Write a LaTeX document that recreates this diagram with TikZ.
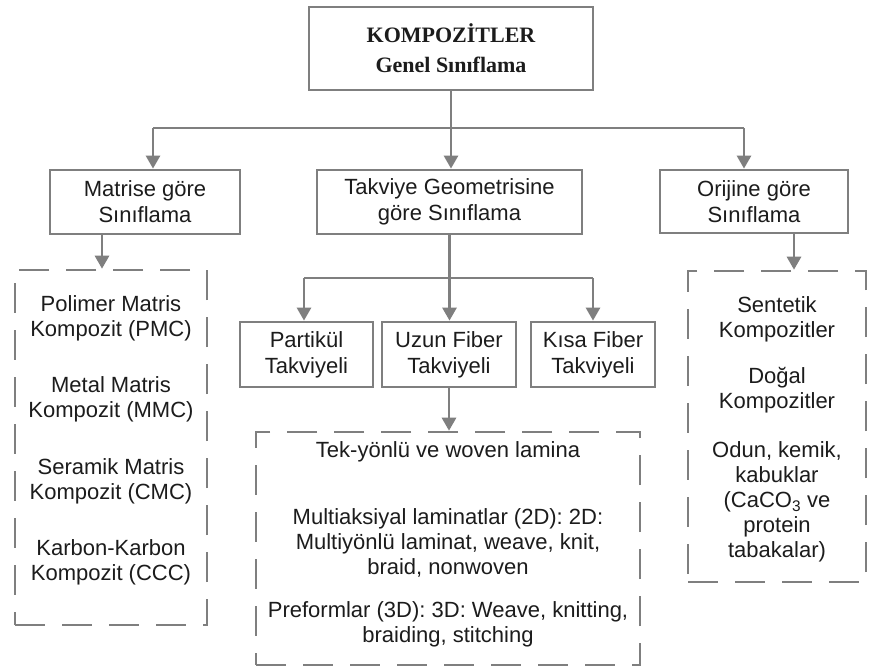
\documentclass[tikz,border=0pt]{standalone}
\usepackage{fontspec}
\setmainfont{Liberation Serif}
\setsansfont{Liberation Sans}
\usetikzlibrary{arrows.meta}
\definecolor{linegray}{HTML}{7F7F7F}
\definecolor{txtcol}{HTML}{1C1C1C}
\tikzset{
  box/.style={draw=linegray, line width=2.8pt, fill=white, align=center, inner sep=0pt,
    text=txtcol, font=\sffamily\fontsize{22}{26}\selectfont},
  dbox/.style={draw=linegray, line width=2.6pt, dash pattern=on 30pt off 17pt, inner sep=0pt},
  txt/.style={align=center, inner sep=0pt, text=txtcol, font=\sffamily\fontsize{22}{25}\selectfont},
  conn/.style={draw=linegray, line width=2.8pt},
  arr/.style={conn, -{Triangle[length=13pt,width=14pt]}}
}
\begin{document}
\begin{tikzpicture}[x=1pt,y=-1pt]
\useasboundingbox[fill=white] (0,0) rectangle (870,667);
% top
\node[box, minimum width=284, minimum height=83, font=\rmfamily\bfseries\fontsize{22}{30}\selectfont] (top) at (451,48.5) {KOMPOZİTLER\\Genel Sınıflama};
% level 1
\node[box, minimum width=190, minimum height=64] (mat) at (145,202) {Matrise göre\\Sınıflama};
\node[box, minimum width=265, minimum height=64] (tak) at (449.5,202) {Takviye Geometrisine\\göre Sınıflama};
\node[box, minimum width=188, minimum height=63] (ori) at (754,201.5) {Orijine göre\\Sınıflama};
% level 2
\node[box, minimum width=133, minimum height=65] (par) at (306.5,354.5) {Partikül\\Takviyeli};
\node[box, minimum width=134, minimum height=65] (uzun) at (449,354.5) {Uzun Fiber\\Takviyeli};
\node[box, minimum width=124, minimum height=65] (kisa) at (593,354.5) {Kısa Fiber\\Takviyeli};
% dashed boxes
\node[dbox, minimum width=192, minimum height=355] (lbox) at (111,447.5) {};
\node[dbox, minimum width=384, minimum height=233] (mbox) at (448,548.5) {};
\node[dbox, minimum width=178, minimum height=311] (rbox) at (777,426.5) {};
% left texts
\node[txt] (l1) at (111,318.5) {Polimer Matris\\Kompozit (PMC)};
\node[txt] (l2) at (111,399.5) {Metal Matris\\Kompozit (MMC)};
\node[txt] (l3) at (111,481.5) {Seramik Matris\\Kompozit (CMC)};
\node[txt] (l4) at (111,562.5) {Karbon-Karbon\\Kompozit (CCC)};
% middle texts
\node[txt] (m1) at (448,452) {Tek-yönlü ve woven lamina};
\node[txt] (m2) at (448,542.5) {Multiaksiyal laminatlar (2D): 2D:\\Multiyönlü laminat, weave, knit,\\braid, nonwoven};
\node[txt] (m3) at (448,624.5) {Preformlar (3D): 3D: Weave, knitting,\\braiding, stitching};
% right texts
\node[txt] (r1) at (777,319.5) {Sentetik\\Kompozitler};
\node[txt] (r2) at (777,390.5) {Doğal\\Kompozitler};
\node[txt] (r3) at (777,502) {Odun, kemik,\\kabuklar\\(CaCO\textsubscript{3} ve\\protein\\tabakalar)};
% connectors level 0 -> 1
\coordinate (hl) at (153,128);
\coordinate (hr) at (744,128);
\draw[conn] (top.south) -- (top.south |- hl);
\draw[conn] (hl) -- (hr);
\draw[arr] (hl) -- (hl |- mat.north);
\draw[arr] (top.south |- hl) -- (top.south |- tak.north);
\draw[arr] (hr) -- (hr |- ori.north);
% level 1 -> dashed
\draw[arr] ([xshift=-43pt]mat.south) -- ([xshift=-43pt]mat.south |- lbox.north);
\draw[arr] ([xshift=40pt]ori.south) -- ([xshift=40pt]ori.south |- rbox.north);
% takviye -> level 2
\coordinate (tl) at (304,278);
\coordinate (tr) at (593,278);
\draw[conn] (tak.south) -- (tak.south |- tl);
\draw[conn] (tl) -- (tr);
\draw[arr] (tl) -- (tl |- par.north);
\draw[arr] (tak.south |- tl) -- (tak.south |- uzun.north);
\draw[arr] (tr) -- (tr |- kisa.north);
% uzun -> middle dashed
\draw[arr] (uzun.south) -- (uzun.south |- mbox.north);
\end{tikzpicture}
\end{document}
